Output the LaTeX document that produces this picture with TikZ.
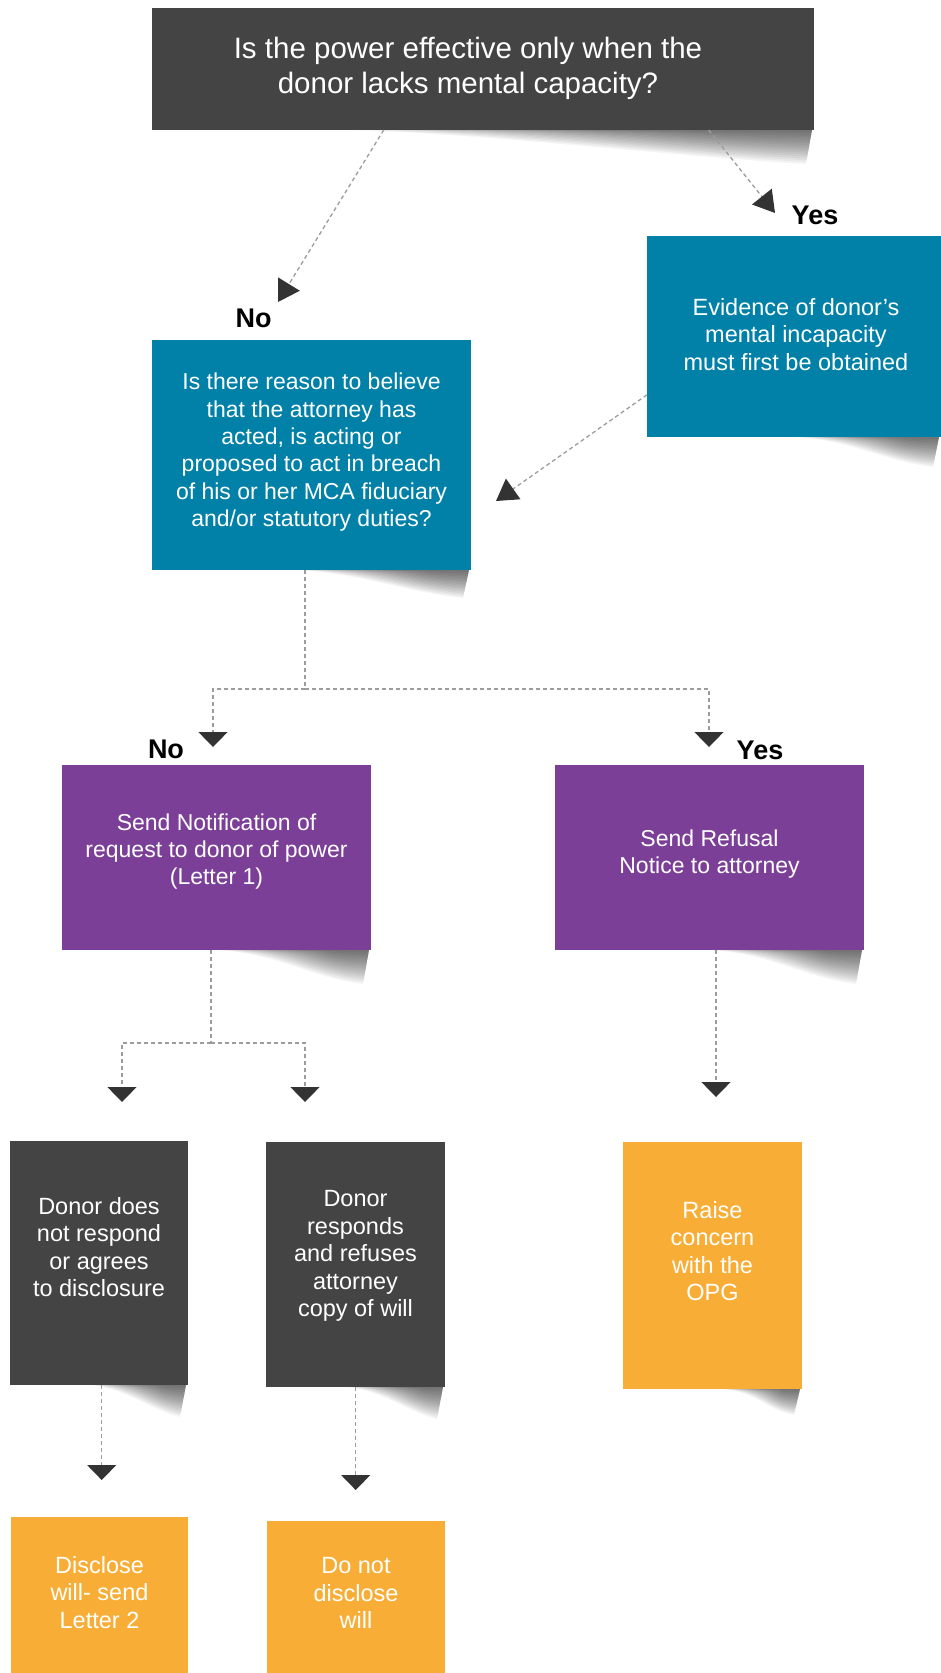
\documentclass[tikz,border=0pt]{standalone}
\usepackage{fontspec}
\setmainfont{Liberation Sans}
\usetikzlibrary{arrows.meta,calc,backgrounds}
\definecolor{darkbox}{HTML}{444444}
\definecolor{tealbox}{HTML}{0180A8}
\definecolor{purplebox}{HTML}{7C3F98}
\definecolor{orangebox}{HTML}{F8AE36}
\definecolor{linegray}{HTML}{9C9C9C}
\definecolor{tipgray}{HTML}{333333}
\newcommand{\boxtext}[4]{\raisebox{#1pt}[\height][\depth]{\fontsize{#2pt}{#3pt}\selectfont\begin{tabular}{@{}c@{}}#4\end{tabular}}}
% soft curled shadow under the lower right part of a box: node, start fraction, depth
\newcommand{\curl}[3]{%
  \foreach \k in {1,...,18} {
  \fill[black, opacity=0.042]
    let \p1=(#1.south west), \p2=(#1.south east),
        \n1={#2+(1-#2)*0.55*(1-\k/18)}, \n2={#3*\k/18} in
    (\x1+\n1*\x2-\n1*\x1, \y1) -- (\x2-2pt, \y1) -- (\x2-2pt-6pt*\k/18, \y1-\n2*1pt)
    .. controls (\x2-0.2*\x2+0.2*\x1, \y1-0.8*\n2*1pt) and (\x1+\n1*\x2-\n1*\x1+0.2*\x2-0.2*\x1, \y1-0.1*\n2*1pt)
    .. (\x1+\n1*\x2-\n1*\x1, \y1) -- cycle;
  }}
\begin{document}
\begin{tikzpicture}[x=1pt,y=-1pt,
  flowbox/.style={inner sep=0pt, outer sep=0pt, text=white, draw=none},
  lbl/.style={inner sep=0pt, font=\bfseries\fontsize{27pt}{30pt}\selectfont, text=black},
  plainline/.style={draw=linegray, line width=1.3pt, dash pattern=on 4pt off 3pt},
  conn/.style={plainline, -{Triangle[width=29pt,length=15pt,color=tipgray]}},
  conndiag/.style={plainline, -{Triangle[width=25pt,length=21pt,color=tipgray]}}]
\useasboundingbox (0,0) rectangle (941,1673);

% boxes
\node[flowbox, fill=darkbox, minimum width=662pt, minimum height=122pt] (top) at (483,69)
  {\hspace*{-30pt}\boxtext{0}{29.5}{35}{Is the power effective only when the\\donor lacks mental capacity?}};
\node[flowbox, fill=tealbox, minimum width=294pt, minimum height=201pt] (evid) at (794,336.5)
  {\hspace*{4pt}\boxtext{-0.8}{23.5}{27.3}{Evidence of donor’s\\mental incapacity\\must first be obtained}};
\node[flowbox, fill=tealbox, minimum width=319pt, minimum height=230pt] (q) at (311.5,455)
  {\boxtext{2.3}{23}{27.3}{Is there reason to believe\\that the attorney has\\acted, is acting or\\proposed to act in breach\\of his or her MCA fiduciary\\and/or statutory duties?}};
\node[flowbox, fill=purplebox, minimum width=309pt, minimum height=185pt] (p1) at (216.5,857.5)
  {\boxtext{5.5}{23}{27.2}{Send Notification of\\request to donor of power\\(Letter 1)}};
\node[flowbox, fill=purplebox, minimum width=309pt, minimum height=185pt] (p2) at (709.5,857.5)
  {\boxtext{3}{23}{27.2}{Send Refusal\\Notice to attorney}};
\node[flowbox, fill=darkbox, minimum width=178pt, minimum height=244pt] (d1) at (99,1263)
  {\boxtext{13}{23.5}{27.5}{Donor does\\not respond\\or agrees\\to disclosure}};
\node[flowbox, fill=darkbox, minimum width=179pt, minimum height=245pt] (d2) at (355.5,1264.5)
  {\boxtext{8.5}{23.5}{27.5}{Donor\\responds\\and refuses\\attorney\\copy of will}};
\node[flowbox, fill=orangebox, minimum width=179pt, minimum height=247pt] (opg) at (712.5,1265.5)
  {\boxtext{11.5}{23.5}{27.5}{Raise\\concern\\with the\\OPG}};
\node[flowbox, fill=orangebox, minimum width=177pt, minimum height=156pt] (o1) at (99.5,1595)
  {\boxtext{0}{23.5}{27.5}{Disclose\\will- send\\Letter 2}};
\node[flowbox, fill=orangebox, minimum width=178pt, minimum height=152pt] (o2) at (356,1597)
  {\boxtext{1.5}{23.5}{27.5}{Do not\\disclose\\will}};

% shadows
\begin{scope}[on background layer]
\curl{top}{0.3}{34}
\curl{evid}{0.5}{30}
\curl{q}{0.45}{28}
\curl{p1}{0.5}{34}
\curl{p2}{0.5}{34}
\curl{d1}{0.45}{32}
\curl{d2}{0.45}{32}
\curl{opg}{0.55}{26}
\end{scope}

% labels
\node[lbl] (noA) at (253.5,318.5) {No};
\node[lbl] (yesA) at (815,215) {Yes};
\node[lbl] (noB) at (166,749) {No};
\node[lbl] (yesB) at (760,750) {Yes};

% connector end points
\coordinate (tA) at (278,302);
\coordinate (tY) at (775,213);
\coordinate (tI) at (496,501);
\coordinate (j1) at (305,689);
\coordinate (tB) at (213,747);
\coordinate (tC) at (709,747);
\coordinate (j2) at (211,1043);
\coordinate (tD) at (122,1102);
\coordinate (tE) at (305,1102);
\coordinate (tF) at (716,1097);
\coordinate (tG) at (101.7,1480);
\coordinate (tH) at (355.7,1490);

% connectors
\draw[conndiag] ($(top.south west)!0.35!(top.south east)$) -- (tA);
\draw[conndiag] ($(top.south west)!0.841!(top.south east)$) -- (tY);
\draw[conndiag] ($(evid.north west)!0.79!(evid.south west)$) -- (tI);
\draw[plainline] (q.south -| j1) -- (j1);
\draw[conn] (j1) -| (tB);
\draw[conn] (j1) -| (tC);
\draw[plainline] (p1.south -| j2) -- (j2);
\draw[conn] (j2) -| (tD);
\draw[conn] (j2) -| (tE);
\draw[conn] (p2.south -| tF) -- (tF);
\draw[conn] (d1.south -| tG) -- (tG);
\draw[conn] (d2.south -| tH) -- (tH);
\end{tikzpicture}
\end{document}
